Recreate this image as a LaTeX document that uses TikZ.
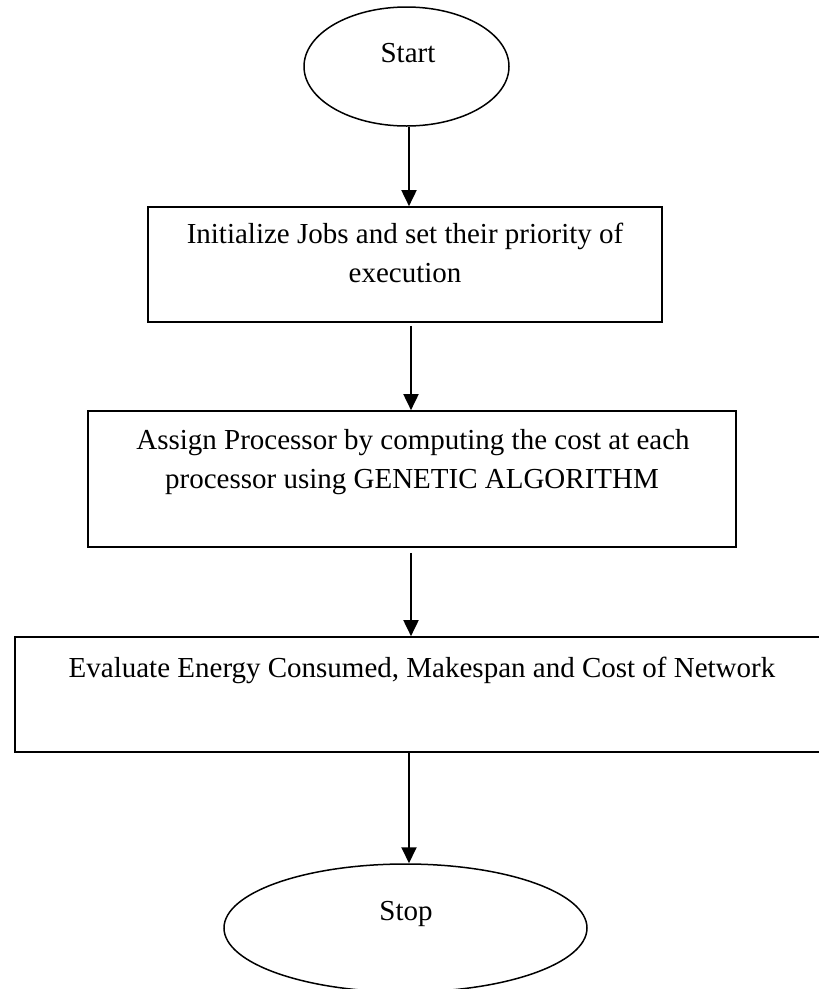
\documentclass[tikz,border=0pt]{standalone}
\usepackage{fontspec}
\setmainfont{Liberation Serif}
\usetikzlibrary{shapes.geometric,arrows.meta}
\begin{document}
\begin{tikzpicture}[x=1pt,y=-1pt,
  terminal/.style={ellipse, draw=black, line width=1.5pt, inner sep=0pt},
  stepbox/.style={rectangle, draw=black, line width=1.7pt, inner sep=0pt},
  lbl/.style={anchor=base, inner sep=0pt, font=\fontsize{29}{39}\selectfont},
  flow/.style={line width=1.9pt, -{Triangle[width=15pt,length=16pt]}}]
% page frame
\fill[white] (0,0) rectangle (819,989);
\useasboundingbox (0,0) rectangle (819,989);
\clip (0,0) rectangle (819,989);

% shapes
\node[terminal, minimum width=205pt, minimum height=119pt] (start) at (406.5,66.5) {};
\node[stepbox, minimum width=514pt, minimum height=115pt] (init) at (405,264.5) {};
\node[stepbox, minimum width=648pt, minimum height=136pt] (assign) at (412,479) {};
\node[stepbox, minimum width=814pt, minimum height=115pt] (eval) at (422,694.5) {};
\node[terminal, minimum width=363pt, minimum height=128pt] (stop) at (405.5,928) {};

% texts
\node[lbl] (startt) at (408,62) {Start};
\node[lbl] (initt1) at (405,243) {Initialize Jobs and set their priority of};
\node[lbl] (initt2) at (405,282) {execution};
\node[lbl] (assignt1) at (413,449) {Assign Processor by computing the cost at each};
\node[lbl] (assignt2) at (412,488) {processor using GENETIC ALGORITHM};
\node[lbl] (evalt) at (422,677) {Evaluate Energy Consumed, Makespan and Cost of Network};
\node[lbl] (stopt) at (406,920) {Stop};

% connectors
\coordinate (ax) at (409,0);
\coordinate (bx) at (411,0);
\draw[flow] (ax |- start.south) -- (ax |- init.north);
\draw[flow, shorten <=3pt] (bx |- init.south) -- (bx |- assign.north);
\draw[flow, shorten <=5pt] (bx |- assign.south) -- (bx |- eval.north);
\draw[flow] (ax |- eval.south) -- (ax |- stop.north);
\end{tikzpicture}
\end{document}
